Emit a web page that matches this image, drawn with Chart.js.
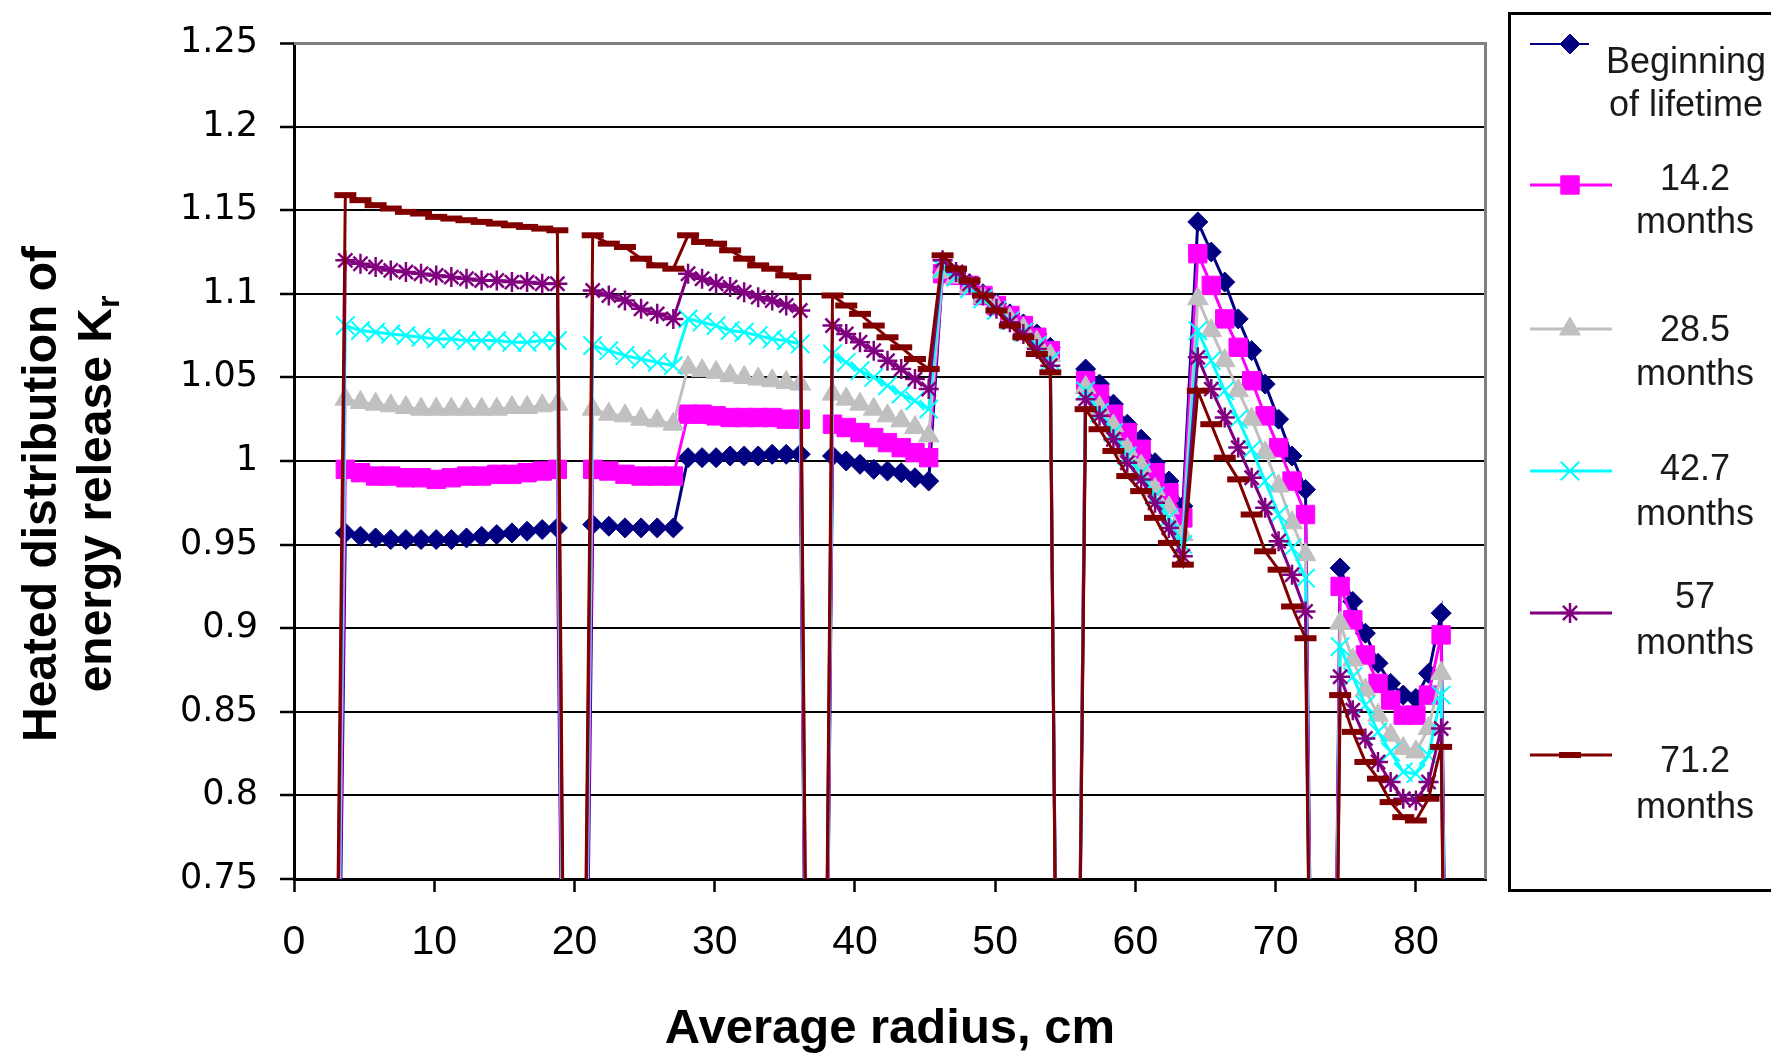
<!DOCTYPE html>
<html>
<head>
<meta charset="utf-8">
<script src="https://cdn.jsdelivr.net/npm/chart.js@4.4.1/dist/chart.umd.min.js"></script>
<style>
html,body{margin:0;padding:0;background:#fff;}
#wrap{position:relative;width:1771px;height:1056px;overflow:hidden;}
canvas{display:block;}
</style>
</head>
<body>
<div id="wrap"><canvas id="c" width="1771" height="1056"></canvas></div>
<script>
// ---- DATA ----
// Average radius, cm (0 values below mark the gaps between fuel zones)
const radiusCm = [
  2.2,
  3.66, 4.74, 5.82, 6.90, 7.98, 9.06, 10.14, 11.22, 12.30, 13.38, 14.46, 15.54, 16.62, 17.70, 18.78,
  19.9,
  21.3, 22.45, 23.6, 24.75, 25.9, 27.05, 28.1, 29.1, 30.1, 31.1, 32.1, 33.1, 34.1, 35.1, 36.1,
  37.2,
  38.4, 39.38, 40.36, 41.34, 42.32, 43.3, 44.28, 45.26, 46.25, 47.21, 48.17, 49.13, 50.09, 51.05, 52.01, 52.97, 53.93,
  55.1,
  56.45, 57.44, 58.43, 59.42, 60.41, 61.4, 62.39, 63.38, 64.45, 65.41, 66.37, 67.33, 68.29, 69.25, 70.21, 71.17, 72.13,
  73.4,
  74.6, 75.5, 76.4, 77.3, 78.2, 79.1, 80.0, 80.9, 81.8,
  83.0
];
const beginningOfLifetime = [
  0,
  0.957, 0.955, 0.954, 0.953, 0.953, 0.953, 0.953, 0.953, 0.954, 0.955, 0.956, 0.957, 0.958, 0.959, 0.960,
  0,
  0.962, 0.961, 0.960, 0.960, 0.960, 0.960, 1.002, 1.002, 1.002, 1.003, 1.003, 1.003, 1.004, 1.004, 1.004,
  0,
  1.003, 1.000, 0.998, 0.995, 0.994, 0.993, 0.990, 0.988, 1.113, 1.112, 1.106, 1.100, 1.094, 1.088, 1.082, 1.076, 1.068,
  0,
  1.055, 1.046, 1.034, 1.022, 1.013, 0.999, 0.988, 0.973, 1.143, 1.125, 1.107, 1.085, 1.066, 1.046, 1.025, 1.003, 0.983,
  0,
  0.936, 0.916, 0.897, 0.879, 0.867, 0.860, 0.858, 0.873, 0.909,
  0
];
const months14_2 = [
  0,
  0.995, 0.993, 0.991, 0.991, 0.990, 0.990, 0.989, 0.990, 0.991, 0.991, 0.992, 0.992, 0.993, 0.994, 0.995,
  0,
  0.995, 0.994, 0.992, 0.991, 0.991, 0.991, 1.028, 1.028, 1.027, 1.026, 1.026, 1.026, 1.026, 1.025, 1.025,
  0,
  1.022, 1.020, 1.017, 1.014, 1.011, 1.008, 1.005, 1.002, 1.112, 1.111, 1.105, 1.099, 1.093, 1.087, 1.081, 1.074, 1.066,
  0,
  1.048, 1.040, 1.028, 1.017, 1.007, 0.993, 0.981, 0.966, 1.124, 1.105, 1.085, 1.068, 1.048, 1.027, 1.008, 0.988, 0.968,
  0,
  0.925, 0.905, 0.884, 0.867, 0.857, 0.848, 0.848, 0.860, 0.896,
  0
];
const months28_5 = [
  0,
  1.037, 1.035, 1.034, 1.033, 1.032, 1.031, 1.031, 1.031, 1.031, 1.031, 1.031, 1.032, 1.032, 1.033, 1.034,
  0,
  1.031, 1.028, 1.027, 1.025, 1.024, 1.022, 1.056, 1.054, 1.053, 1.051, 1.050, 1.049, 1.048, 1.047, 1.046,
  0,
  1.040, 1.037, 1.034, 1.031, 1.027, 1.024, 1.020, 1.015, 1.113, 1.110, 1.104, 1.098, 1.092, 1.085, 1.079, 1.071, 1.063,
  0,
  1.044, 1.032, 1.021, 1.007, 0.997, 0.983, 0.972, 0.956, 1.097, 1.078, 1.060, 1.042, 1.025, 1.005, 0.985, 0.963, 0.944,
  0,
  0.903, 0.881, 0.863, 0.848, 0.836, 0.828, 0.826, 0.840, 0.873,
  0
];
const months42_7 = [
  0,
  1.081, 1.078, 1.077, 1.076, 1.075, 1.074, 1.073, 1.073, 1.072, 1.072, 1.072, 1.071, 1.071, 1.072, 1.072,
  0,
  1.069, 1.066, 1.063, 1.061, 1.059, 1.057, 1.085, 1.083, 1.081, 1.078, 1.077, 1.075, 1.073, 1.072, 1.070,
  0,
  1.064, 1.059, 1.054, 1.050, 1.045, 1.040, 1.036, 1.031, 1.115, 1.110, 1.103, 1.097, 1.090, 1.084, 1.077, 1.069, 1.060,
  0,
  1.042, 1.029, 1.017, 1.003, 0.993, 0.979, 0.966, 0.950, 1.078, 1.060, 1.042, 1.025, 1.007, 0.988, 0.968, 0.948, 0.930,
  0,
  0.889, 0.871, 0.854, 0.838, 0.826, 0.814, 0.813, 0.824, 0.860,
  0
];
const months57 = [
  0,
  1.120, 1.118, 1.116, 1.114, 1.113, 1.112, 1.111, 1.110, 1.109, 1.108, 1.108, 1.107, 1.107, 1.106, 1.106,
  0,
  1.102, 1.099, 1.096, 1.091, 1.088, 1.085, 1.112, 1.109, 1.106, 1.104, 1.101, 1.098, 1.096, 1.093, 1.090,
  0,
  1.081, 1.076, 1.071, 1.066, 1.060, 1.055, 1.049, 1.043, 1.120, 1.113, 1.106, 1.099, 1.091, 1.083, 1.076, 1.067, 1.057,
  0,
  1.037, 1.027, 1.013, 0.999, 0.989, 0.975, 0.960, 0.943, 1.062, 1.043, 1.026, 1.008, 0.990, 0.972, 0.952, 0.932, 0.910,
  0,
  0.871, 0.851, 0.834, 0.820, 0.808, 0.798, 0.797, 0.808, 0.840,
  0
];
const months71_2 = [
  0,
  1.159, 1.156, 1.153, 1.151, 1.149, 1.148, 1.146, 1.145, 1.144, 1.143, 1.142, 1.141, 1.140, 1.139, 1.138,
  0,
  1.135, 1.130, 1.128, 1.121, 1.117, 1.115, 1.135, 1.131, 1.130, 1.126, 1.121, 1.117, 1.115, 1.111, 1.110,
  0,
  1.099, 1.093, 1.088, 1.081, 1.074, 1.068, 1.061, 1.055, 1.123, 1.115, 1.108, 1.099, 1.090, 1.081, 1.074, 1.064, 1.053,
  0,
  1.031, 1.019, 1.006, 0.991, 0.982, 0.966, 0.951, 0.938, 1.042, 1.022, 1.002, 0.989, 0.968, 0.946, 0.935, 0.913, 0.894,
  0,
  0.860, 0.838, 0.820, 0.810, 0.796, 0.787, 0.785, 0.798, 0.829,
  0
];
const seriesNames = [
  ['Beginning', 'of lifetime'],
  ['14.2', 'months'],
  ['28.5', 'months'],
  ['42.7', 'months'],
  ['57', 'months'],
  ['71.2', 'months']
];
const xAxisTitle = 'Average radius, cm';
const yAxisTitleLine1 = 'Heated distribution of';
const yAxisTitleLine2 = 'energy release K';
const yAxisTitleSub = 'r';

// ---- STYLES ----
const seriesValues = [beginningOfLifetime, months14_2, months28_5, months42_7, months57, months71_2];
const styles = [
  {color: '#000080', pointStyle: 'rectRot', r: 10, pbw: 1},
  {color: '#FF00FF', pointStyle: 'rect', r: 13, pbw: 1},
  {color: '#C0C0C0', pointStyle: 'triangle', r: 12, pbw: 1},
  {color: '#00FFFF', pointStyle: 'crossRot', r: 13, pbw: 2},
  {color: '#800080', pointStyle: 'star', r: 10, pbw: 2.5},
  {color: '#800000', pointStyle: 'line', r: 11, pbw: 6}
];

const datasets = seriesValues.map((vals, i) => {
  const s = styles[i];
  return {
    label: seriesNames[i].join(' '),
    data: radiusCm.map((x, j) => ({x: x, y: vals[j]})),
    borderColor: s.color,
    backgroundColor: s.color,
    borderWidth: 3,
    pointStyle: s.pointStyle,
    pointRadius: ctx => (ctx.raw && ctx.raw.y > 0 ? s.r : 0),
    pointHoverRadius: ctx => (ctx.raw && ctx.raw.y > 0 ? s.r : 0),
    pointBorderWidth: s.pbw,
    pointBorderColor: s.color,
    pointBackgroundColor: s.color,
    tension: 0,
    order: 6 - i
  };
});

const legendLayout = {
  boxLeft: 1509.5, boxTop: 13.5, boxBottom: 890.5,
  lineX0: 1530, lineX1: 1612, firstLineX1: 1589, markerX: 1570,
  textX: [1686, 1695, 1695, 1695, 1695, 1695],
  lineY: [44, 185, 329, 471, 613, 755],
  textY: [[63, 106], [180, 223], [331, 375], [470, 515], [598, 644], [762, 808]]
};

const decor = {
  id: 'decor',
  beforeDatasetsDraw(chart) {
    const {ctx, chartArea: a} = chart;
    ctx.save();
    ctx.strokeStyle = '#808080';
    ctx.lineWidth = 3;
    ctx.beginPath();
    ctx.moveTo(a.left, a.top + 0.5);
    ctx.lineTo(a.right - 0.5, a.top + 0.5);
    ctx.lineTo(a.right - 0.5, a.bottom);
    ctx.stroke();
    ctx.restore();
  },
  afterDraw(chart) {
    const ctx = chart.ctx;
    // Y axis title (two rotated lines, subscript r)
    ctx.save();
    ctx.fillStyle = '#000';
    ctx.textBaseline = 'middle';
    ctx.translate(43, 494);
    ctx.rotate(-Math.PI / 2);
    ctx.font = 'bold 48px "Liberation Sans", Arial, sans-serif';
    ctx.textAlign = 'center';
    ctx.fillText(yAxisTitleLine1, 0, 0);
    ctx.restore();

    ctx.save();
    ctx.fillStyle = '#000';
    ctx.textBaseline = 'middle';
    ctx.translate(98, 494);
    ctx.rotate(-Math.PI / 2);
    ctx.font = 'bold 48px "Liberation Sans", Arial, sans-serif';
    const w1 = ctx.measureText(yAxisTitleLine2).width;
    ctx.font = 'bold 32px "Liberation Sans", Arial, sans-serif';
    const w2 = ctx.measureText(yAxisTitleSub).width;
    const start = -(w1 + w2) / 2;
    ctx.textAlign = 'left';
    ctx.font = 'bold 48px "Liberation Sans", Arial, sans-serif';
    ctx.fillText(yAxisTitleLine2, start, 0);
    ctx.font = 'bold 32px "Liberation Sans", Arial, sans-serif';
    ctx.fillText(yAxisTitleSub, start + w1, 12);
    ctx.restore();

    // Legend
    const L = legendLayout;
    ctx.save();
    ctx.fillStyle = '#fff';
    ctx.fillRect(L.boxLeft, L.boxTop, 400, L.boxBottom - L.boxTop);
    ctx.strokeStyle = '#000';
    ctx.lineWidth = 3;
    ctx.strokeRect(L.boxLeft, L.boxTop, 400, L.boxBottom - L.boxTop);
    seriesNames.forEach((name, i) => {
      const s = styles[i];
      const y = L.lineY[i];
      ctx.strokeStyle = s.color;
      ctx.lineWidth = i === 0 ? 2 : 3;
      ctx.beginPath();
      ctx.moveTo(L.lineX0, y);
      ctx.lineTo(i === 0 ? L.firstLineX1 : L.lineX1, y);
      ctx.stroke();
      ctx.fillStyle = s.color;
      ctx.strokeStyle = s.color;
      ctx.lineWidth = s.pbw;
      Chart.helpers.drawPoint(ctx, {pointStyle: s.pointStyle, radius: s.r, borderWidth: s.pbw, rotation: 0}, L.markerX, y);
      ctx.fillStyle = '#1a1a1a';
      ctx.font = '36px "Liberation Sans", Arial, sans-serif';
      ctx.textAlign = 'center';
      ctx.textBaseline = 'middle';
      ctx.fillText(name[0], L.textX[i], L.textY[i][0]);
      ctx.fillText(name[1], L.textX[i], L.textY[i][1]);
    });
    ctx.restore();
  }
};

new Chart(document.getElementById('c'), {
  type: 'line',
  data: {datasets: datasets},
  plugins: [decor],
  options: {
    responsive: false,
    animation: false,
    devicePixelRatio: 1,
    events: [],
    layout: {padding: {top: 31, right: 285, bottom: 0, left: 0}},
    plugins: {legend: {display: false}, tooltip: {enabled: false}},
    scales: {
      x: {
        type: 'linear',
        min: 0,
        max: 85,
        afterFit(s) { s.height = 177; },
        ticks: {
          stepSize: 10,
          includeBounds: false,
          autoSkip: false,
          maxRotation: 0,
          padding: 26,
          color: '#000',
          font: {family: '"Liberation Sans", Arial, sans-serif', size: 41, lineHeight: 1.2}
        },
        grid: {display: true, drawOnChartArea: false, drawTicks: true, tickLength: 13, tickColor: '#000', tickWidth: 2.5, color: '#000'},
        border: {display: true, color: '#000', width: 3},
        title: {
          display: true,
          text: xAxisTitle,
          color: '#000',
          padding: {top: 0, bottom: 0},
          font: {family: '"Liberation Sans", Arial, sans-serif', size: 49, weight: 'bold', lineHeight: 1.1}
        }
      },
      y: {
        type: 'linear',
        min: 0.75,
        max: 1.25,
        afterFit(s) { s.width = 294; },
        ticks: {
          stepSize: 0.05,
          padding: 22,
          color: '#000',
          font: {family: '"DejaVu Sans", sans-serif', size: 35},
          callback: v => String(Math.round(v * 100) / 100)
        },
        grid: {
          color: c => (c.tick && c.tick.value > 1.249 ? '#808080' : '#000'),
          lineWidth: c => (c.tick && c.tick.value > 1.249 ? 3 : 2),
          tickLength: 14,
          tickColor: '#000',
          tickWidth: 2.5
        },
        border: {display: true, color: '#000', width: 3}
      }
    }
  }
});
</script>
</body>
</html>
